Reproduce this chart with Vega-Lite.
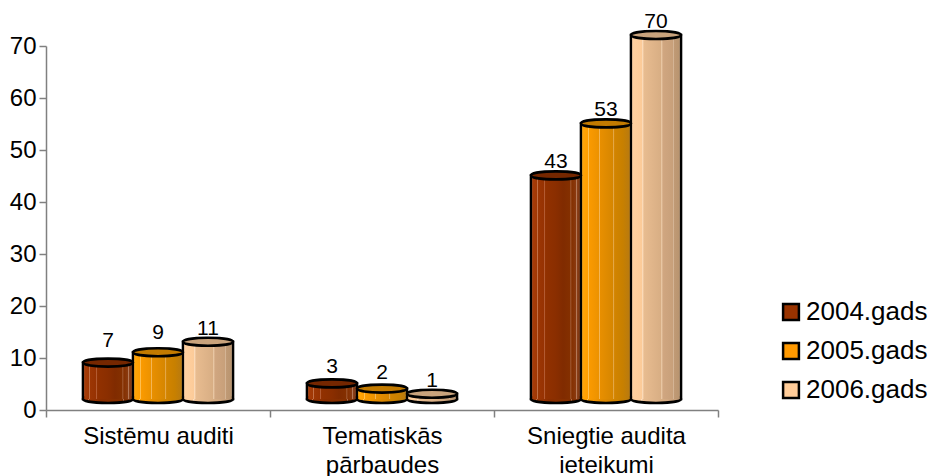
{"$schema":"https://vega.github.io/schema/vega-lite/v6.json","width":672,"height":364,"autosize":"none","padding":{"left":46,"top":46,"right":212,"bottom":66},"background":"white",
"config":{"font":"Liberation Sans","view":{"stroke":null}},
"data":{"values":[
{"cat":"Sistēmu auditi","year":"2004.gads","value":7},{"cat":"Sistēmu auditi","year":"2005.gads","value":9},{"cat":"Sistēmu auditi","year":"2006.gads","value":11},
{"cat":"Tematiskās pārbaudes","year":"2004.gads","value":3},{"cat":"Tematiskās pārbaudes","year":"2005.gads","value":2},{"cat":"Tematiskās pārbaudes","year":"2006.gads","value":1},
{"cat":"Sniegtie audita ieteikumi","year":"2004.gads","value":43},{"cat":"Sniegtie audita ieteikumi","year":"2005.gads","value":53},{"cat":"Sniegtie audita ieteikumi","year":"2006.gads","value":70}]},
"encoding":{
"x":{"field":"cat","type":"nominal","sort":null,"title":null,"scale":{"paddingInner":0,"paddingOuter":0},
"axis":{"labelAngle":0,"labelFontSize":24,"labelColor":"#000000","labelPadding":7,"labelLineHeight":29,"labelLimit":0,"tickBand":"extent","domainColor":"#808080","tickColor":"#808080","domainWidth":1.5,"tickWidth":1.5,"tickSize":7,"grid":false,
"labelExpr":"datum.label=='Tematiskās pārbaudes'?['Tematiskās','pārbaudes']:datum.label=='Sniegtie audita ieteikumi'?['Sniegtie audita','ieteikumi']:datum.label"}},
"xOffset":{"field":"year","type":"nominal","sort":null,"scale":{"paddingInner":0,"paddingOuter":0.74}},
"y":{"field":"value","type":"quantitative","title":null,"scale":{"domain":[0,70],"nice":false},
"axis":{"values":[0,10,20,30,40,50,60,70],"grid":false,"labelFontSize":24,"labelColor":"#000000","labelPadding":3,"domainColor":"#808080","tickColor":"#808080","domainWidth":1.5,"tickWidth":1.5,"tickSize":7}}
},
"layer":[
{"mark":{"type":"point","filled":true,"size":0,"strokeWidth":0,"shape":"square"},
 "encoding":{"fill":{"field":"year","type":"nominal","scale":{"domain":["2004.gads","2005.gads","2006.gads"],"range":["#993300","#FF9900","#FFCC99"]},
 "legend":{"title":null,"orient":"none","legendX":732,"legendY":253,"symbolType":"square","symbolSize":250,"symbolStrokeColor":"#000000","symbolStrokeWidth":2.5,"symbolOpacity":1,"labelFontSize":26,"labelColor":"#000000","rowPadding":13,"labelOffset":2,"offset":0}}}},
{"mark":{"type":"bar","width":50,"yOffset":-11,"y2Offset":-11,"stroke":"#000000","strokeWidth":2.6,"fill":"#808080"},"encoding":{"y2":{"datum":0}}},
{"mark":{"type":"point","filled":true,"size":2500,"yOffset":-11,"opacity":1,"stroke":"#000000","strokeWidth":2.6,"shape":"M -1 0 A 1 0.16 0 1 0 1 0 A 1 0.16 0 1 0 -1 0 Z"},
 "encoding":{"y":{"datum":0,"type":"quantitative"},"fill":{"condition":[
 {"test":"datum.year==='2004.gads'","value":{"gradient":"linear","x1":0,"x2":1,"y1":0,"y2":0,"stops":[{"offset":0,"color":"#a83c08"},{"offset":0.1,"color":"#a03805"},{"offset":0.11,"color":"#c4734a"},{"offset":0.13,"color":"#9c3604"},{"offset":0.35,"color":"#8a2e00"},{"offset":0.8,"color":"#843000"},{"offset":0.81,"color":"#b0704f"},{"offset":0.83,"color":"#843000"},{"offset":1,"color":"#7a3410"}]}},
 {"test":"datum.year==='2005.gads'","value":{"gradient":"linear","x1":0,"x2":1,"y1":0,"y2":0,"stops":[{"offset":0,"color":"#ffa50a"},{"offset":0.12,"color":"#ff9e00"},{"offset":0.13,"color":"#ffc45a"},{"offset":0.15,"color":"#fa9a00"},{"offset":0.45,"color":"#e08a00"},{"offset":0.8,"color":"#c88000"},{"offset":1,"color":"#b87a10"}]}}],
 "value":{"gradient":"linear","x1":0,"x2":1,"y1":0,"y2":0,"stops":[{"offset":0,"color":"#ffd0a0"},{"offset":0.2,"color":"#fccb99"},{"offset":0.21,"color":"#ffe0c0"},{"offset":0.25,"color":"#e8bc90"},{"offset":0.6,"color":"#d8ae84"},{"offset":0.85,"color":"#c8a07a"},{"offset":1,"color":"#b8946f"}]}}}},
{"mark":{"type":"bar","width":47.6,"yOffset":-11,"y2Offset":-11},
 "encoding":{"y2":{"datum":0},"fill":{"condition":[
 {"test":"datum.year==='2004.gads'","value":{"gradient":"linear","x1":0,"x2":1,"y1":0,"y2":0,"stops":[{"offset":0,"color":"#a83c08"},{"offset":0.1,"color":"#a03805"},{"offset":0.11,"color":"#c4734a"},{"offset":0.13,"color":"#9c3604"},{"offset":0.25,"color":"#963202"},{"offset":0.26,"color":"#b8623a"},{"offset":0.28,"color":"#923100"},{"offset":0.5,"color":"#8a2e00"},{"offset":0.65,"color":"#802b00"},{"offset":0.8,"color":"#843000"},{"offset":0.81,"color":"#b0704f"},{"offset":0.83,"color":"#843000"},{"offset":0.92,"color":"#8a3a10"},{"offset":0.93,"color":"#b57a5a"},{"offset":0.95,"color":"#8a3f18"},{"offset":1,"color":"#7a3410"}]}},
 {"test":"datum.year==='2005.gads'","value":{"gradient":"linear","x1":0,"x2":1,"y1":0,"y2":0,"stops":[{"offset":0,"color":"#ffa50a"},{"offset":0.12,"color":"#ff9e00"},{"offset":0.13,"color":"#ffc45a"},{"offset":0.15,"color":"#fa9a00"},{"offset":0.35,"color":"#ec9200"},{"offset":0.36,"color":"#f6bd66"},{"offset":0.38,"color":"#e88f00"},{"offset":0.65,"color":"#d68600"},{"offset":0.66,"color":"#e8b15c"},{"offset":0.68,"color":"#d28400"},{"offset":0.85,"color":"#c88000"},{"offset":1,"color":"#b87a10"}]}}],
 "value":{"gradient":"linear","x1":0,"x2":1,"y1":0,"y2":0,"stops":[{"offset":0,"color":"#ffd0a0"},{"offset":0.2,"color":"#fccb99"},{"offset":0.21,"color":"#ffe0c0"},{"offset":0.25,"color":"#e8bc90"},{"offset":0.6,"color":"#d8ae84"},{"offset":0.61,"color":"#eccba8"},{"offset":0.65,"color":"#d0a680"},{"offset":0.85,"color":"#c8a07a"},{"offset":0.86,"color":"#e0c4a8"},{"offset":0.88,"color":"#c09a75"},{"offset":1,"color":"#b8946f"}]}}}},
{"mark":{"type":"point","filled":true,"size":2500,"yOffset":-11,"opacity":1,"stroke":"#000000","strokeWidth":2.6,"shape":"M -1 0 A 1 0.16 0 1 0 1 0 A 1 0.16 0 1 0 -1 0 Z"},
 "encoding":{"fill":{"condition":[{"test":"datum.year==='2004.gads'","value":"#752700"},{"test":"datum.year==='2005.gads'","value":"#c27a00"}],"value":"#c9a37c"}}},
{"transform":[{"filter":{"field":"value","oneOf":[1,11,43,53,70]}}],"mark":{"type":"text","fontSize":21,"color":"#000000","baseline":"middle","yOffset":-24},"encoding":{"text":{"field":"value","type":"quantitative"}}},
{"transform":[{"filter":{"field":"value","oneOf":[2,3]}}],"mark":{"type":"text","fontSize":21,"color":"#000000","baseline":"middle","yOffset":-27},"encoding":{"text":{"field":"value","type":"quantitative"}}},
{"transform":[{"filter":{"field":"value","equal":9}}],"mark":{"type":"text","fontSize":21,"color":"#000000","baseline":"middle","yOffset":-30},"encoding":{"text":{"field":"value","type":"quantitative"}}},
{"transform":[{"filter":{"field":"value","equal":7}}],"mark":{"type":"text","fontSize":21,"color":"#000000","baseline":"middle","yOffset":-33},"encoding":{"text":{"field":"value","type":"quantitative"}}}
]}
